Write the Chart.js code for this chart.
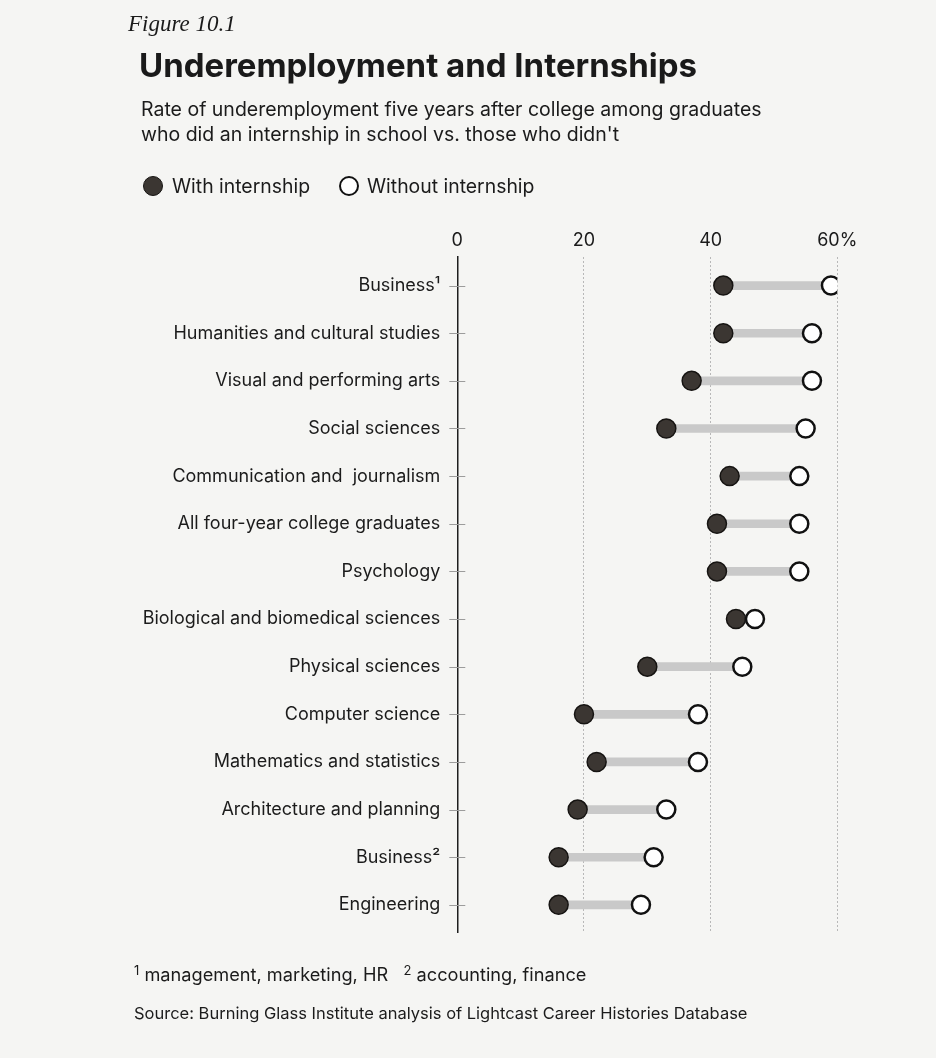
<!DOCTYPE html>
<html>
<head>
<meta charset="utf-8">
<script src="https://cdn.jsdelivr.net/npm/chart.js@4.4.1/dist/chart.umd.min.js"></script>
<style>
  html, body { margin:0; padding:0; }
  body { width:936px; height:1058px; background:#f5f5f3; position:relative; overflow:hidden; font-family:Inter, "Noto Sans", sans-serif; color:#1b1b1b; }
  #c { position:absolute; left:0; top:0; }
  .t { position:absolute; white-space:pre; }
  #fig { left:128px; top:10px; font-family:"Liberation Serif", serif; font-style:italic; font-size:23px; line-height:28px; }
  #title { left:139px; top:45px; font-weight:700; font-size:33px; line-height:40px; letter-spacing:0px; color:#1a1a1a; }
  #sub { left:141px; top:97px; font-size:19.5px; line-height:24.5px; }
  #legend { left:0; top:174px; width:936px; height:26px; font-size:19.4px; line-height:24px; }
  #legend span { position:absolute; top:0; }
  .dot { width:20px; height:20px; border-radius:50%; box-sizing:border-box; margin-top:2px; }
  .d1 { background:#3b3632; border:1.5px solid #161412; }
  .d2 { background:#fff; border:2.5px solid #111; }
  #foot1 { left:134px; top:962px; font-size:18.2px; line-height:24px; }
  #foot1 sup { font-size:13px; vertical-align:6px; line-height:0; }
  #src { left:134px; top:1002px; font-size:16.5px; line-height:22px; }
</style>
</head>
<body>
<canvas id="c" width="936" height="1058"></canvas>
<div class="t" id="fig">Figure 10.1</div>
<div class="t" id="title">Underemployment and Internships</div>
<div class="t" id="sub">Rate of underemployment five years after college among graduates
who did an internship in school vs. those who didn't</div>
<div class="t" id="legend"><span class="dot d1" style="left:143px"></span><span style="left:172px">With internship</span><span class="dot d2" style="left:339px"></span><span style="left:367px">Without internship</span></div>
<div class="t" id="foot1"><sup>1</sup> management, marketing, HR   <sup>2</sup> accounting, finance</div>
<div class="t" id="src">Source: Burning Glass Institute analysis of Lightcast Career Histories Database</div>
<script>
const categories = [
  "Business\u00b9",
  "Humanities and cultural studies",
  "Visual and performing arts",
  "Social sciences",
  "Communication and  journalism",
  "All four-year college graduates",
  "Psychology",
  "Biological and biomedical sciences",
  "Physical sciences",
  "Computer science",
  "Mathematics and statistics",
  "Architecture and planning",
  "Business\u00b2",
  "Engineering"
];
const withInternship    = [42, 42, 37, 33, 43, 41, 41, 44, 30, 20, 22, 19, 16, 16];
const withoutInternship = [59, 56, 56, 55, 54, 54, 54, 47, 45, 38, 38, 33, 31, 29];
const xTickValues = [0, 20, 40, 60];
const xTickLabels = ["0", "20", "40", "60%"];

const rowTicks = {
  id: 'rowTicks',
  beforeDatasetsDraw(chart) {
    const xs = chart.scales.x, ys = chart.scales.y;
    const x0 = xs.getPixelForValue(0);
    const ctx = chart.ctx;
    ctx.save();
    ctx.strokeStyle = '#9c9c9c';
    ctx.lineWidth = 1;
    categories.forEach((c, i) => {
      const y = Math.round(ys.getPixelForValue(i)) + 0.5;
      ctx.beginPath();
      ctx.moveTo(x0 - 8, y);
      ctx.lineTo(x0 + 8, y);
      ctx.stroke();
    });
    ctx.restore();
  }
};

new Chart(document.getElementById('c'), {
  type: 'bar',
  data: {
    datasets: [
      {
        type: 'bar',
        data: categories.map((c, i) => ({ y: i, x: [withInternship[i], withoutInternship[i]] })),
        backgroundColor: '#c9c9c9',
        barThickness: 8,
        borderSkipped: false,
        order: 3
      },
      {
        type: 'line',
        showLine: false,
        data: categories.map((c, i) => ({ x: withInternship[i], y: i })),
        pointRadius: 9.5,
        pointHoverRadius: 9.5,
        pointBackgroundColor: '#3b3632',
        pointBorderColor: '#161412',
        pointBorderWidth: 1.5,
        order: 2
      },
      {
        type: 'line',
        showLine: false,
        data: categories.map((c, i) => ({ x: withoutInternship[i], y: i })),
        pointRadius: 9,
        pointHoverRadius: 9,
        pointBackgroundColor: '#ffffff',
        pointBorderColor: '#111111',
        pointBorderWidth: 2.5,
        order: 1
      }
    ]
  },
  options: {
    indexAxis: 'y',
    responsive: false,
    animation: false,
    devicePixelRatio: 1,
    layout: { padding: { left: 0, right: 98.7, top: 217, bottom: 126 } },
    plugins: { legend: { display: false }, tooltip: { enabled: false } },
    scales: {
      x: {
        type: 'linear',
        position: 'top',
        min: 0, max: 60,
        offset: false,
        afterFit(s) { s.height = 40; },
        afterBuildTicks(s) { s.ticks = xTickValues.map(v => ({ value: v })); },
        ticks: {
          padding: 6,
          color: '#1b1b1b',
          font: { family: 'Inter', size: 18 },
          callback(v) { return xTickLabels[xTickValues.indexOf(v)]; }
        },
        grid: {
          drawTicks: false,
          color: ctx => (ctx.tick && ctx.tick.value === 0) ? 'rgba(0,0,0,0)' : '#b8b8b8',
          lineWidth: 1
        },
        border: { display: false, dash: [2, 2] }
      },
      y: {
        type: 'linear',
        reverse: true,
        offset: false,
        min: -0.6, max: 13.57,
        afterFit(s) { s.width = 457.3; },
        afterBuildTicks(s) { s.ticks = categories.map((c, i) => ({ value: i })); },
        ticks: {
          padding: 17,
          autoSkip: false,
          color: '#1b1b1b',
          font: { family: 'Inter', size: 18 },
          callback(v) { return categories[v]; }
        },
        grid: { display: false, drawTicks: false, offset: false },
        border: { display: true, color: '#1e1e1e', width: 1.5 }
      }
    }
  },
  plugins: [rowTicks]
});
</script>
</body>
</html>
